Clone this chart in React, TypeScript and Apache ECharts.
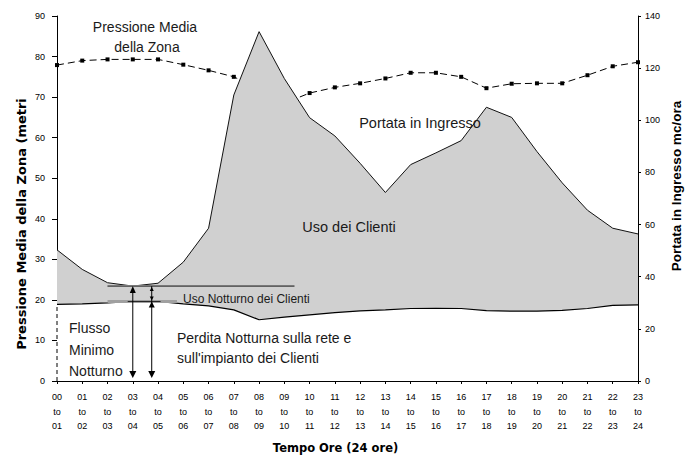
import React, { useEffect, useRef } from "react";
import * as echarts from "echarts";

const categories = [
  "00\nto\n01", "01\nto\n02", "02\nto\n03", "03\nto\n04", "04\nto\n05", "05\nto\n06",
  "06\nto\n07", "07\nto\n08", "08\nto\n09", "09\nto\n10", "10\nto\n11", "11\nto\n12",
  "12\nto\n13", "13\nto\n14", "14\nto\n15", "15\nto\n16", "16\nto\n17", "17\nto\n18",
  "18\nto\n19", "19\nto\n20", "20\nto\n21", "21\nto\n22", "22\nto\n23", "23\nto\n24",
];

// Pressione media della zona (metri) - left axis
const pressure = [
  77.9, 79.0, 79.3, 79.3, 79.3, 78.0, 76.6, 75.0, 72.0, 68.5, 71.0, 72.4,
  73.4, 74.6, 76.0, 76.0, 75.0, 72.2, 73.3, 73.4, 73.4, 75.4, 77.6, 78.6,
];

// Portata in ingresso (mc/ora) - right axis
const inflow = [
  50.3, 42.8, 37.7, 36.4, 37.5, 45.6, 58.6, 109.7, 134.0, 116.0, 101.0, 94.0,
  83.5, 72.3, 83.0, 87.5, 92.2, 105.0, 101.1, 88.0, 76.0, 65.5, 58.6, 56.4,
];

// Perdita notturna (mc/ora) - right axis
const leakage = [
  29.4, 29.6, 30.0, 30.5, 30.5, 29.6, 28.8, 27.3, 23.5, 24.5, 25.4, 26.2,
  26.9, 27.3, 27.8, 27.9, 27.8, 27.0, 26.8, 26.8, 27.1, 27.8, 29.0, 29.2,
];

const leftAxis = { min: 0, max: 90, interval: 10 };
const rightAxis = { min: 0, max: 140, interval: 20 };

const leftAxisName = "Pressione Media della Zona (metri";
const rightAxisName = "Portata in Ingresso mc/ora";
const xAxisName = "Tempo Ore (24 ore)";

const FONT = "'Liberation Sans', Arial, sans-serif";
const WIDE = "'DejaVu Sans', 'Liberation Sans', Arial, sans-serif";

export default function App() {
  const ref = useRef<HTMLDivElement>(null);

  useEffect(() => {
    const chart = echarts.init(ref.current!, null, { renderer: "svg" });
    const option: any = {
      animation: false,
      backgroundColor: "#ffffff",
      textStyle: { fontFamily: FONT },
      grid: { left: 57, right: 48, top: 16, bottom: 74 },
      xAxis: {
        type: "category",
        data: categories,
        boundaryGap: false,
        z: 5,
        name: xAxisName,
        nameLocation: "middle",
        nameGap: 61,
        nameTextStyle: {
          fontFamily: WIDE,
          fontWeight: "bold",
          fontSize: 11.5,
          color: "#000",
          padding: [0, 24, 0, 0],
        },
        axisLine: { lineStyle: { color: "#000", width: 1 } },
        axisTick: { alignWithLabel: true, length: 3, lineStyle: { color: "#000" } },
        axisLabel: {
          interval: 0,
          fontSize: 9,
          lineHeight: 14.5,
          margin: 9,
          color: "#000",
          fontFamily: FONT,
        },
        splitLine: { show: false },
      },
      yAxis: [
        {
          type: "value",
          position: "left",
          min: leftAxis.min,
          max: leftAxis.max,
          interval: leftAxis.interval,
          z: 0,
          axisLine: { show: true, lineStyle: { color: "#000" } },
          axisTick: { show: true, length: 5, lineStyle: { color: "#000" } },
          axisLabel: { fontSize: 9, margin: 12, color: "#000", fontFamily: FONT },
          splitLine: { show: false },
        },
        {
          type: "value",
          position: "right",
          min: rightAxis.min,
          max: rightAxis.max,
          interval: rightAxis.interval,
          z: 5,
          axisLine: { show: true, lineStyle: { color: "#000" } },
          axisTick: { show: true, length: 3, lineStyle: { color: "#000" } },
          axisLabel: { fontSize: 9, margin: 7, color: "#000", fontFamily: FONT },
          splitLine: { show: false },
        },
      ],
      series: [
        {
          name: "Pressione Media della Zona",
          type: "line",
          yAxisIndex: 0,
          z: 1,
          data: pressure,
          symbol: "rect",
          symbolSize: 4,
          itemStyle: { color: "#000" },
          lineStyle: { color: "#000", width: 1, type: [7, 4] },
        },
        {
          name: "Portata in Ingresso",
          type: "line",
          yAxisIndex: 1,
          z: 2,
          data: inflow,
          symbol: "none",
          lineStyle: { color: "#111", width: 1 },
          areaStyle: { color: "#d0d0d0", opacity: 1 },
        },
        {
          name: "Perdita Notturna",
          type: "line",
          yAxisIndex: 1,
          z: 3,
          data: leakage,
          symbol: "none",
          lineStyle: { color: "#000", width: 1.2 },
          areaStyle: { color: "#ffffff", opacity: 1 },
        },
      ],
    };
    chart.setOption(option);

    const p = (i: number, v: number) =>
      chart.convertToPixel({ xAxisIndex: 0, yAxisIndex: 1 }, [i, v]) as number[];
    const x0 = p(0, 0)[0];
    const x23 = p(23, 0)[0];
    const xAt = (i: number) => x0 + (i * (x23 - x0)) / 23;
    const yR = (v: number) => p(0, v)[1];

    const yTop = yR(inflow[3]);
    const yMid = yR(leakage[3]);
    const yBot = yR(0) - 3;
    const xa1 = xAt(3);
    const xa2 = xAt(3.75);
    const black = "#000";

    const tri = (x: number, tipY: number, w: number, h: number, up: boolean) => ({
      type: "polygon",
      z: 20,
      shape: {
        points: up
          ? [[x, tipY], [x - w, tipY + h], [x + w, tipY + h]]
          : [[x, tipY], [x - w, tipY - h], [x + w, tipY - h]],
      },
      style: { fill: black },
    });
    const ln = (x1: number, y1: number, x2: number, y2: number, extra: any = {}) => ({
      type: "line",
      z: 20,
      shape: { x1, y1, x2, y2 },
      style: { stroke: black, lineWidth: 1, ...extra },
    });
    const txt = (x: number, y: number, text: string, size: number, align = "left") => ({
      type: "text",
      z: 30,
      x,
      y,
      style: {
        text,
        fontFamily: FONT,
        fontSize: size,
        fill: "#1a1a1a",
        align,
        verticalAlign: "middle",
      },
    });
    const vName = (x: number, y: number, text: string, size: number, font: string) => ({
      type: "text",
      z: 30,
      x,
      y,
      rotation: Math.PI / 2,
      style: {
        text,
        fontFamily: font,
        fontWeight: "bold",
        fontSize: size,
        fill: "#000",
        align: "center",
        verticalAlign: "middle",
      },
    });

    chart.setOption({
      graphic: [
        // axis titles
        vName(21, 224, leftAxisName, 13, WIDE),
        vName(676, 186, rightAxisName, 13.5, FONT),
        // dashed left edge under the leakage
        ln(x0, yR(0), x0, yR(leakage[0]), { lineDash: [4, 3] }),
        // horizontal reference lines
        {
          type: "rect",
          z: 19,
          shape: { x: xAt(2), y: yTop - 1, width: xAt(9.4) - xAt(2), height: 2 },
          style: { fill: "#a8a8a8" },
        },
        ln(xAt(2), yTop, xAt(9.4), yTop, { stroke: "#333" }),
        {
          type: "rect",
          z: 19,
          shape: { x: xAt(2), y: yMid - 1.5, width: xAt(4.75) - xAt(2), height: 3 },
          style: { fill: "#a0a0a0" },
        },
        ln(xAt(2.8), yMid, xAt(4.1), yMid, { stroke: "#222" }),
        // arrow 1: Flusso Minimo Notturno
        ln(xa1, yTop + 3, xa1, yBot - 3),
        tri(xa1, yTop, 3, 7, true),
        tri(xa1, yBot, 3.5, 7, false),
        // arrow 2: Uso notturno + perdita
        ln(xa2, yTop, xa2, yBot - 3),
        tri(xa2, yTop + 1, 2, 4, true),
        tri(xa2, yMid - 1, 2, 4, false),
        tri(xa2, yMid, 3, 6, true),
        tri(xa2, yBot, 3.5, 7, false),
        // text annotations
        txt(145, 27, "Pressione Media", 14, "center"),
        txt(147, 47, "della Zona", 14, "center"),
        txt(420, 123, "Portata in Ingresso", 14.5, "center"),
        txt(349, 227, "Uso dei Clienti", 14.5, "center"),
        txt(183, 299, "Uso Notturno dei Clienti", 12, "left"),
        txt(69, 328, "Flusso", 14, "left"),
        txt(69, 350, "Minimo", 14, "left"),
        txt(69, 371, "Notturno", 14, "left"),
        txt(177, 338, "Perdita Notturna sulla rete e", 14, "left"),
        txt(177, 358, "sull'impianto dei Clienti", 14, "left"),
      ],
    });

    return () => chart.dispose();
  }, []);

  return (
    <div
      ref={ref}
      style={{ position: "fixed", left: 0, top: 0, width: 686, height: 459, background: "#fff" }}
    />
  );
}
